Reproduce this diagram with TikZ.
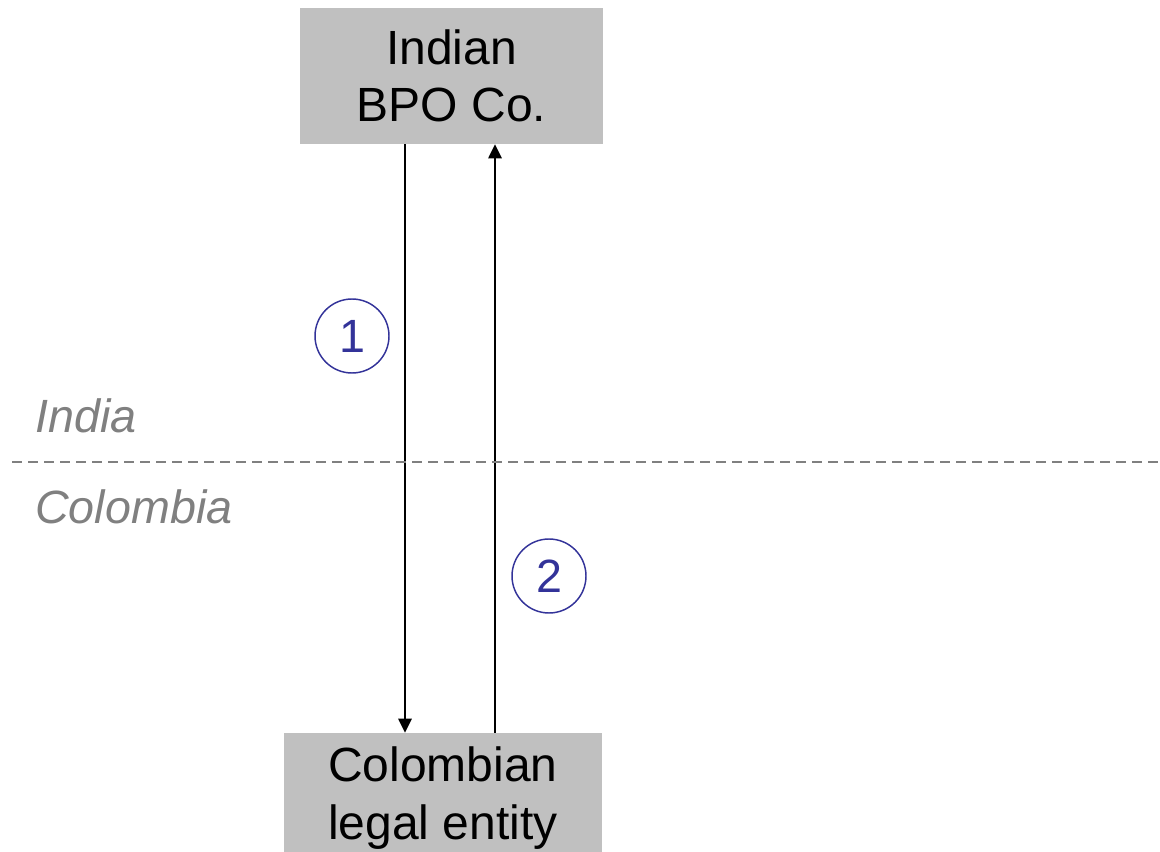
\documentclass[tikz,border=0pt]{standalone}
\usepackage{fontspec}
\setmainfont{Liberation Sans}
\usetikzlibrary{arrows.meta}
\definecolor{boxgray}{HTML}{C0C0C0}
\definecolor{navy}{HTML}{333399}
\definecolor{labgray}{HTML}{808080}
\begin{document}
\begin{tikzpicture}[x=0.75pt,y=-0.75pt,
  box/.style={fill=boxgray, draw=none, inner sep=0pt, align=center,
    font=\fontsize{36}{43}\selectfont},
  num/.style={circle, draw=navy, line width=1.1pt, text=navy, minimum size=55.5pt,
    inner sep=0pt, font=\fontsize{35}{40}\selectfont},
  arr/.style={line width=1.2pt, -{Triangle[length=10.5pt,width=10pt]}},
  region/.style={text=labgray, inner sep=0pt, anchor=base west,
    font=\fontsize{35}{40}\selectfont\itshape},
  border/.style={labgray, line width=1.8pt, dash pattern=on 7.5pt off 4.5pt}]
\useasboundingbox (0,0) rectangle (1160,852);
\node[box, minimum width=227.25pt, minimum height=102pt] (top) at (451.5,76) {Indian\\BPO Co.};
\node[box, minimum width=238.5pt, minimum height=97.5pt] (bot) at (443,798) {Colombian\\legal entity};
\coordinate (a1) at (405,0);
\coordinate (a2) at (495,0);
\draw[arr] (top.south -| a1) -- (bot.north -| a1);
\draw[arr] (bot.north -| a2) -- (top.south -| a2);
\node[num] (n1) at (352,336) {1};
\node[num] (n2) at (549,576) {2};
\coordinate (dl) at (12,462);
\coordinate (dr) at (1160,462);
\draw[border] (dl) -- (dr);
\node[region] (india) at (35,432) {India};
\node[region] (colombia) at (35,523) {Colombia};
\end{tikzpicture}
\end{document}
